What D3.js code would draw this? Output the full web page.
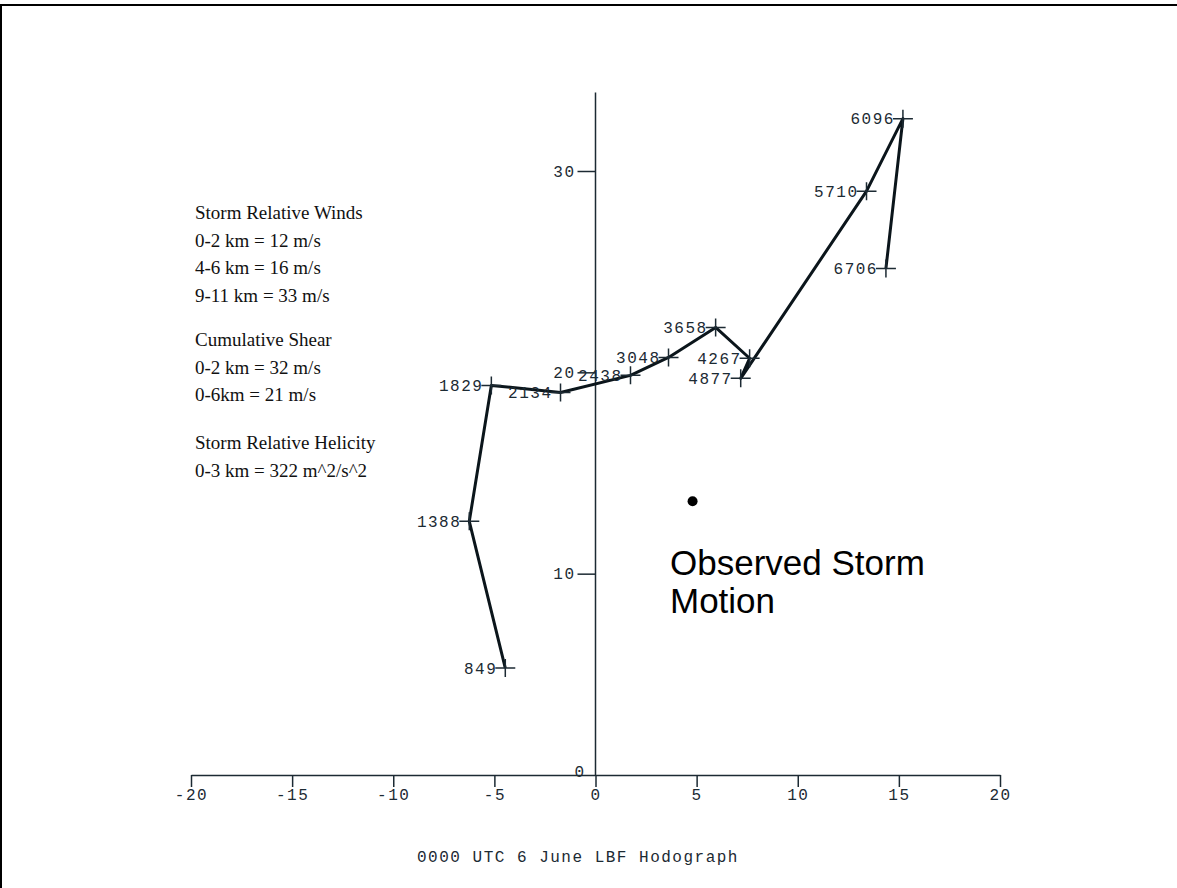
<!DOCTYPE html>
<html>

<head>
    <meta charset="utf-8">
    <style>
        body {
            margin: 0;
            background: #fff;
        }

        svg {
            display: block;
        }

        .mono {
            font-family: 'Liberation Mono', 'DejaVu Sans Mono', monospace;
            font-size: 16px;
            letter-spacing: 1.5px;
            fill: #1c2a33;
        }

        .stats {
            font-family: 'Liberation Serif', 'DejaVu Serif', serif;
            font-size: 19px;
            fill: #111;
        }
    </style>
</head>

<body>
    <svg width="1177" height="888"></svg>
</body>

<script src="https://d3js.org/d3.v7.min.js"></script>

<script>
    // hodograph points: height label (m), u and v wind (m/s)
    let heights = ["849", "1388", "1829", "2134", "2438", "3048", "3658", "4267", "4877", "5710", "6096", "6706"]
    let uWind = [-4.46, -6.24, -5.15, -1.73, 1.73, 3.61, 5.94, 7.62, 7.18, 13.4, 15.2, 14.36]
    let vWind = [5.31, 12.6, 19.35, 19.0, 19.85, 20.74, 22.23, 20.7, 19.7, 29.0, 32.6, 25.16]

    let stormMotion = [4.8, 13.6]

    let xTicks = [-20, -15, -10, -5, 0, 5, 10, 15, 20]
    let yTicks = [0, 10, 20, 30]

    let statLines = [
        ["Storm Relative Winds", "0-2 km = 12 m/s", "4-6 km = 16 m/s", "9-11 km = 33 m/s"],
        ["Cumulative Shear", "0-2 km = 32 m/s", "0-6km = 21 m/s"],
        ["Storm Relative Helicity", "0-3 km = 322 m^2/s^2"]
    ]

    let title = "0000 UTC 6 June LBF Hodograph"

    let svg = d3.select("svg")
    let ink = "#1c2a33"

    // frame
    svg.append("rect")
        .attr("x", 1).attr("y", 5)
        .attr("width", 1300).attr("height", 1000)
        .attr("fill", "none")
        .attr("stroke", "#000")
        .attr("stroke-width", 2)

    let x = d3.scaleLinear().domain([-20, 20]).range([191, 1000])
    let y = d3.scaleLinear().domain([0, 30]).range([775, 171])

    // x axis
    let xAxis = svg.append("g")
        .attr("transform", "translate(0," + y(0) + ")")
        .call(d3.axisBottom(x).tickValues(xTicks).tickSize(12).tickSizeOuter(0)
            .tickFormat(d => d < 0 ? "-" + Math.abs(d) : String(d)))
    xAxis.select(".domain").attr("stroke", ink).attr("stroke-width", 1.5)
    xAxis.selectAll(".tick line").attr("stroke", ink).attr("stroke-width", 1.5)
    xAxis.selectAll(".tick text").attr("class", "mono").attr("fill", ink).attr("dy", "0.6em")
        .attr("font-family", null).attr("font-size", null)

    // y axis, runs up past the last tick
    svg.append("line")
        .attr("x1", x(0)).attr("x2", x(0))
        .attr("y1", y(0)).attr("y2", y(33.9))
        .attr("stroke", ink).attr("stroke-width", 1.5)

    let yAxis = svg.append("g")
        .attr("transform", "translate(" + x(0) + ",0)")
        .call(d3.axisLeft(y).tickValues(yTicks).tickSize(18).tickPadding(2))
    yAxis.select(".domain").remove()
    yAxis.selectAll(".tick line").attr("stroke", ink).attr("stroke-width", 1.5)
    yAxis.selectAll(".tick text").attr("class", "mono").attr("fill", ink)
        .attr("font-family", null).attr("font-size", null)
    yAxis.selectAll(".tick").filter(d => d === 0).select("line").remove()
    yAxis.selectAll(".tick").filter(d => d === 0).select("text").attr("x", -10).attr("dy", "0.1em")

    // hodograph trace
    let pts = heights.map((h, i) => ({ h: h, u: uWind[i], v: vWind[i] }))

    svg.append("path")
        .datum(pts)
        .attr("d", d3.line().x(d => x(d.u)).y(d => y(d.v)))
        .attr("fill", "none")
        .attr("stroke", "#0b151b")
        .attr("stroke-width", 3)
        .attr("stroke-linejoin", "round")

    let marks = svg.append("g").selectAll("g")
        .data(pts)
        .join("g")
        .attr("transform", d => "translate(" + x(d.u) + "," + y(d.v) + ")")

    marks.append("path")
        .attr("d", "M-10,0H10M0,-9V9")
        .attr("stroke", ink)
        .attr("stroke-width", 1.5)

    marks.append("text")
        .attr("class", "mono")
        .attr("x", -8)
        .attr("dy", "0.35em")
        .attr("text-anchor", "end")
        .text(d => d.h)

    // observed storm motion
    svg.append("circle")
        .attr("cx", x(stormMotion[0]))
        .attr("cy", y(stormMotion[1]))
        .attr("r", 5)
        .attr("fill", "#000")

    svg.append("text")
        .attr("x", 670).attr("y", 575)
        .attr("font-family", "'Liberation Sans', Arial, sans-serif")
        .attr("font-size", 35)
        .attr("fill", "#000")
        .selectAll("tspan")
        .data(["Observed Storm", "Motion"])
        .join("tspan")
        .attr("x", 670)
        .attr("dy", (d, i) => i ? 38 : 0)
        .text(d => d)

    // stats block
    let blockTop = [219, 346, 449]
    statLines.forEach((lines, b) => {
        svg.append("g").selectAll("text")
            .data(lines)
            .join("text")
            .attr("class", "stats")
            .attr("x", 195)
            .attr("y", (d, i) => blockTop[b] + i * 27.5)
            .text(d => d)
    })

    svg.append("text")
        .attr("class", "mono")
        .attr("x", 578)
        .attr("y", 862)
        .attr("text-anchor", "middle")
        .text(title)
</script>

</html>
